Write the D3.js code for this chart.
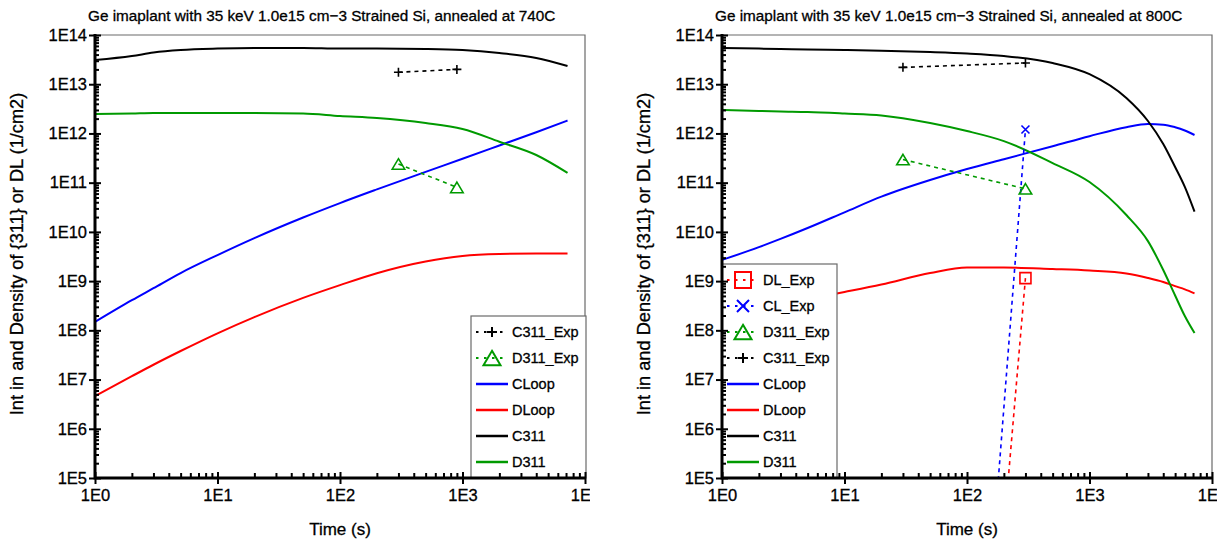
<!DOCTYPE html>
<html><head><meta charset="utf-8">
<script src="https://cdn.jsdelivr.net/npm/d3@7"></script>
<style>
body{margin:0;background:#fff}
svg{display:block}
text{font-family:"Liberation Sans",Arial,Helvetica,sans-serif;fill:#000;stroke:#000;stroke-width:0.3px}
</style>
</head><body>
<svg id="c" width="1220" height="544"></svg>
<script>
// ---------- data ----------
const timeTickValues = [1, 10, 100, 1000, 10000];
const timeTickLabels = ["1E0", "1E1", "1E2", "1E3", "1E4"];
const densTickValues = [1e5, 1e6, 1e7, 1e8, 1e9, 1e10, 1e11, 1e12, 1e13, 1e14];
const densTickLabels = ["1E5", "1E6", "1E7", "1E8", "1E9", "1E10", "1E11", "1E12", "1E13", "1E14"];

const title740 = "Ge imaplant with 35 keV 1.0e15 cm\u22123 Strained Si, annealed at 740C";
const title800 = "Ge imaplant with 35 keV 1.0e15 cm\u22123 Strained Si, annealed at 800C";
const xLabel = "Time (s)";
const yLabel = "Int in and Density of {311} or DL (1/cm2)";

// 740C simulation
const t740     = [1, 2, 3, 5, 10, 20, 50, 100, 200, 500, 1000, 2000, 4000, 7200];
const c311_740 = [3.1e13, 3.74e13, 4.4e13, 4.95e13, 5.3e13, 5.45e13, 5.45e13, 5.3e13, 5.3e13, 5.2e13, 4.95e13, 4.3e13, 3.41e13, 2.34e13];
const d311_740 = [2.48e12, 2.54e12, 2.6e12, 2.6e12, 2.6e12, 2.6e12, 2.54e12, 2.26e12, 2.06e12, 1.63e12, 1.23e12, 6.8e11, 3.65e11, 1.58e11];
const cloop740 = [1.48e8, 4.09e8, 7.18e8, 1.46e9, 3.38e9, 7.48e9, 1.96e10, 3.85e10, 7.3e10, 1.66e11, 3.06e11, 5.69e11, 1.06e12, 1.83e12];
const dloop740 = [4.6e6, 1.17e7, 2.0e7, 3.8e7, 8.7e7, 1.86e8, 4.57e8, 8.3e8, 1.45e9, 2.51e9, 3.24e9, 3.55e9, 3.63e9, 3.63e9];
// 740C experiment
const tExp740    = [300, 900];
const c311Exp740 = [1.75e13, 2.0e13];
const d311Exp740 = [2.4e11, 8.0e10];

// 800C simulation
const t800     = [1, 2, 3, 5, 10, 20, 50, 100, 200, 500, 1000, 2000, 3000, 4000, 5000, 6000, 7200];
const c311_800 = [5.45e13, 5.3e13, 5.2e13, 5.07e13, 4.95e13, 4.8e13, 4.5e13, 4.2e13, 3.74e13, 2.7e13, 1.6e13, 5.25e12, 1.79e12, 6.1e11, 2.08e11, 8.2e10, 2.57e10];
const d311_800 = [2.99e12, 2.86e12, 2.79e12, 2.73e12, 2.54e12, 2.32e12, 1.63e12, 1.12e12, 7.0e11, 2.5e11, 1.03e11, 2.2e10, 6.5e9, 1.68e9, 5.1e8, 1.95e8, 8.8e7];
const cloop800 = [2.69e9, 4.9e9, 7.2e9, 1.2e10, 2.5e10, 5.2e10, 1.13e11, 1.89e11, 3.0e11, 5.5e11, 8.8e11, 1.34e12, 1.55e12, 1.51e12, 1.34e12, 1.15e12, 9.3e11];
const dloop800 = [1.48e8, 2.6e8, 3.4e8, 4.3e8, 6.0e8, 8.5e8, 1.46e9, 1.89e9, 1.89e9, 1.76e9, 1.64e9, 1.43e9, 1.16e9, 9.6e8, 7.9e8, 6.8e8, 5.65e8];
// 800C experiment
const tExp800    = [30, 300];
const c311Exp800 = [2.2e13, 2.7e13];
const d311Exp800 = [2.95e11, 7.5e10];
const clExp800   = [1e-20, 1.2e12];
const dlExp800   = [1e-20, 1.15e9];

// ---------- styles ----------
const COL = {black: "#000000", green: "#009a00", blue: "#0000ff", red: "#ff0000"};
const zip = (a, b) => a.map((v, i) => [v, b[i]]);

const panels = [
  {
    x0: 95, x1: 585, titleX: 88, ylabX: 23, title: title740,
    models: [
      {name: "CLoop", t: t740, v: cloop740, color: COL.blue},
      {name: "DLoop", t: t740, v: dloop740, color: COL.red},
      {name: "C311", t: t740, v: c311_740, color: COL.black},
      {name: "D311", t: t740, v: d311_740, color: COL.green}
    ],
    exps: [
      {name: "C311_Exp", t: tExp740, v: c311Exp740, color: COL.black, marker: "plus"},
      {name: "D311_Exp", t: tExp740, v: d311Exp740, color: COL.green, marker: "tri"}
    ],
    legend: ["C311_Exp", "D311_Exp", "CLoop", "DLoop", "C311", "D311"],
    legendX: 471
  },
  {
    x0: 722, x1: 1212, titleX: 715, ylabX: 650, title: title800,
    models: [
      {name: "CLoop", t: t800, v: cloop800, color: COL.blue},
      {name: "DLoop", t: t800, v: dloop800, color: COL.red},
      {name: "C311", t: t800, v: c311_800, color: COL.black},
      {name: "D311", t: t800, v: d311_800, color: COL.green}
    ],
    exps: [
      {name: "DL_Exp", t: tExp800, v: dlExp800, color: COL.red, marker: "square"},
      {name: "CL_Exp", t: tExp800, v: clExp800, color: COL.blue, marker: "x"},
      {name: "D311_Exp", t: tExp800, v: d311Exp800, color: COL.green, marker: "tri"},
      {name: "C311_Exp", t: tExp800, v: c311Exp800, color: COL.black, marker: "plus"}
    ],
    legend: ["DL_Exp", "CL_Exp", "D311_Exp", "C311_Exp", "CLoop", "DLoop", "C311", "D311"],
    legendX: 722
  }
];

function markerPath(type, s) {
  const h = s / 2;
  if (type === "plus") return `M${-h},0H${h}M0,${-h}V${h}`;
  if (type === "x") return `M${-h},${-h}L${h},${h}M${-h},${h}L${h},${-h}`;
  if (type === "square") return `M${-h},${-h}H${h}V${h}H${-h}Z`;
  if (type === "tri") { const hh = s * 0.42; return `M0,${-hh}L${h},${hh}L${-h},${hh}Z`; }
  return "";
}
const markerSize = {plus: 9, x: 8, square: 11, tri: 12.5};
const legendMarkerSize = {plus: 10, x: 12, square: 16, tri: 17};

const svg = d3.select("#c");
const YB = 478, YT = 35;

panels.forEach((p, pi) => {
  const x = d3.scaleLog().domain([1, 1e4]).range([p.x0, p.x1]);
  const y = d3.scaleLog().domain([1e5, 1e14]).range([YB, YT]);
  const g = svg.append("g");

  const clipId = "clip" + pi;
  svg.append("clipPath").attr("id", clipId).append("rect")
    .attr("x", p.x0).attr("y", YT).attr("width", p.x1 - p.x0).attr("height", YB - YT);
  const lblClip = "lclip" + pi;
  svg.append("clipPath").attr("id", lblClip).append("rect")
    .attr("x", p.x0 - 60).attr("y", 0).attr("width", p.x1 - p.x0 + 65).attr("height", 544);

  g.append("text").attr("x", p.titleX).attr("y", 21).attr("font-size", 15.3).text(p.title);

  g.append("path").attr("d", `M${p.x0},${YT}H${p.x1}V${YB}`).attr("fill", "none")
    .attr("stroke", "#6a6a6a").attr("stroke-width", 1.2);

  const line = d3.line().x(d => x(d[0])).y(d => y(d[1]));
  const smooth = d3.line().x(d => x(d[0])).y(d => y(d[1])).curve(d3.curveMonotoneX);
  const plot = g.append("g").attr("clip-path", `url(#${clipId})`);

  p.models.forEach(m => {
    plot.append("path").datum(zip(m.t, m.v)).attr("d", smooth)
      .attr("fill", "none").attr("stroke", m.color).attr("stroke-width", 2);
  });
  p.exps.forEach(e => {
    plot.append("path").datum(zip(e.t, e.v)).attr("d", line)
      .attr("fill", "none").attr("stroke", e.color).attr("stroke-width", 1.6)
      .attr("stroke-dasharray", "4,4");
    plot.selectAll(null).data(zip(e.t, e.v)).enter().append("path")
      .attr("transform", d => `translate(${x(d[0])},${y(d[1])})`)
      .attr("d", markerPath(e.marker, markerSize[e.marker]))
      .attr("fill", "none").attr("stroke", e.color).attr("stroke-width", 1.6);
  });

  const n = p.legend.length, rowH = 26;
  const lh = n * rowH + 6, lw = 115;
  const lg = g.append("g");
  lg.append("rect").attr("x", p.legendX).attr("y", YB - lh).attr("width", lw).attr("height", lh)
    .attr("fill", "#fff").attr("stroke", "#6a6a6a").attr("stroke-width", 1.2);
  p.legend.forEach((name, i) => {
    const cy = YB - lh + 16 + i * rowH;
    const m = p.models.find(s => s.name === name);
    const e = p.exps.find(s => s.name === name);
    const lx0 = p.legendX + 5, lx1 = p.legendX + 37;
    if (m) {
      lg.append("line").attr("x1", lx0).attr("x2", lx1).attr("y1", cy).attr("y2", cy)
        .attr("stroke", m.color).attr("stroke-width", 2.5);
    } else if (e) {
      lg.append("line").attr("x1", lx0).attr("x2", lx1).attr("y1", cy).attr("y2", cy)
        .attr("stroke", e.color).attr("stroke-width", 2).attr("stroke-dasharray", "2.5,5.5");
      lg.append("path").attr("transform", `translate(${(lx0 + lx1) / 2},${cy})`)
        .attr("d", markerPath(e.marker, legendMarkerSize[e.marker]))
        .attr("fill", "none").attr("stroke", e.color).attr("stroke-width", 2);
    }
    lg.append("text").attr("x", p.legendX + 41).attr("y", cy).attr("dy", "0.36em")
      .attr("font-size", 14.5).text(name);
  });

  const minorX = [];
  for (let d = 1; d < 1e4; d *= 10) for (let k = 2; k <= 9; k++) minorX.push(d * k);
  const minorY = [];
  for (let d = 1e5; d < 1e14; d *= 10) for (let k = 2; k <= 9; k++) minorY.push(d * k);

  const ax = g.append("g");
  ax.append("g").attr("transform", `translate(0,${YB})`).attr("clip-path", `url(#${lblClip})`)
    .call(d3.axisBottom(x).tickValues(timeTickValues).tickFormat((d, i) => timeTickLabels[i])
      .tickSize(6).tickPadding(5));
  ax.append("g").attr("transform", `translate(0,${YB})`)
    .call(d3.axisBottom(x).tickValues(timeTickValues).tickFormat("").tickSize(-6));
  ax.append("g").attr("transform", `translate(0,${YB})`)
    .call(d3.axisBottom(x).tickValues(minorX).tickFormat("").tickSize(-5));
  ax.append("g").attr("transform", `translate(${p.x0},0)`)
    .call(d3.axisLeft(y).tickValues(densTickValues).tickFormat((d, i) => densTickLabels[i])
      .tickSize(6).tickPadding(2));
  ax.append("g").attr("transform", `translate(${p.x0},0)`)
    .call(d3.axisLeft(y).tickValues(densTickValues).tickFormat("").tickSize(-6));
  ax.append("g").attr("transform", `translate(${p.x0},0)`)
    .call(d3.axisLeft(y).tickValues(minorY).tickFormat("").tickSize(-4));

  ax.selectAll(".domain").remove();
  ax.selectAll(".tick line").attr("stroke", "#000").attr("stroke-width", 2);
  ax.selectAll(".tick text").attr("font-size", 16.5).attr("font-family", '"Liberation Sans",Arial,sans-serif').attr("fill", "#000");

  ax.append("path").attr("d", `M${p.x0},${YT - 1}V${YB}H${p.x1 + 1}`)
    .attr("fill", "none").attr("stroke", "#000").attr("stroke-width", 3);

  g.append("text").attr("x", (p.x0 + p.x1) / 2).attr("y", 535).attr("text-anchor", "middle")
    .attr("font-size", 17).text(xLabel);
  g.append("text").attr("transform", `translate(${p.ylabX},254) rotate(-90)`)
    .attr("text-anchor", "middle").attr("font-size", 18.2).text(yLabel);
});
</script>
</body></html>
